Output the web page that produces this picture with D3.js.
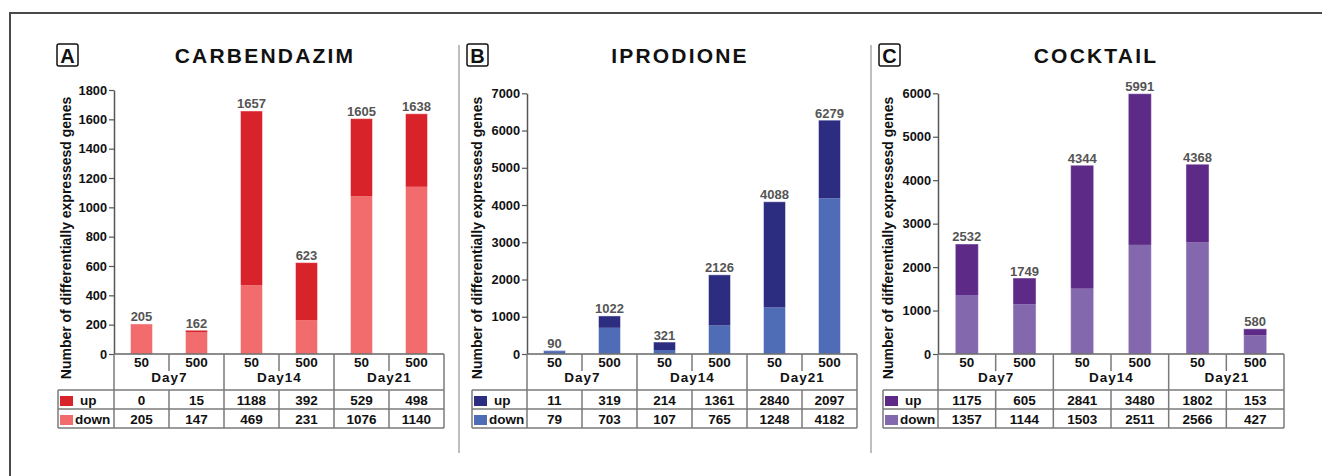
<!DOCTYPE html>
<html><head><meta charset="utf-8">
<script src="https://cdn.jsdelivr.net/npm/d3@7"></script>
<style>
body{margin:0;background:#fff}
svg{display:block}
text{font-family:"Liberation Sans",Arial,Helvetica,sans-serif;font-weight:bold}
</style></head><body>
<svg id="chart" width="1322" height="476"></svg>
<script>
// ---------- data ----------
const doses = ["50", "500", "50", "500", "50", "500"];
const days = ["Day7", "Day14", "Day21"];
const rowLabels = ["up", "down"];

const carbUp = [0, 15, 1188, 392, 529, 498];
const carbDown = [205, 147, 469, 231, 1076, 1140];
const carbTotal = [205, 162, 1657, 623, 1605, 1638];
const carbTicks = [0, 200, 400, 600, 800, 1000, 1200, 1400, 1600, 1800];

const iproUp = [11, 319, 214, 1361, 2840, 2097];
const iproDown = [79, 703, 107, 765, 1248, 4182];
const iproTotal = [90, 1022, 321, 2126, 4088, 6279];
const iproTicks = [0, 1000, 2000, 3000, 4000, 5000, 6000, 7000];

const cockUp = [1175, 605, 2841, 3480, 1802, 153];
const cockDown = [1357, 1144, 1503, 2511, 2566, 427];
const cockTotal = [2532, 1749, 4344, 5991, 4368, 580];
const cockTicks = [0, 1000, 2000, 3000, 4000, 5000, 6000];

const titles = ["CARBENDAZIM", "IPRODIONE", "COCKTAIL"];
const letters = ["A", "B", "C"];
const yTitle = "Number of differentially expressesd genes";

// ---------- layout ----------
const svg = d3.select("#chart");
const base = 354;
const lineCol = "#7a7a7a";

// outer frame
svg.append("rect").attr("x", 10).attr("y", 13).attr("width", 1340).attr("height", 500)
  .attr("fill", "none").attr("stroke", "#4a4a4a").attr("stroke-width", 2);
// panel separators
[459, 871].forEach(x => svg.append("line").attr("x1", x).attr("x2", x).attr("y1", 45).attr("y2", 453)
  .attr("stroke", "#a8a8a8").attr("stroke-width", 1.5));

const panels = [
  {box: 57, axisX: 114, right: 444, legL: 58, titleX: 264, yLab: 71, top: 90,
   up: carbUp, down: carbDown, total: carbTotal, ticks: carbTicks, cUp: "#d9232a", cDown: "#f26b6d"},
  {box: 467, axisX: 527, right: 857, legL: 472, titleX: 679, yLab: 481.5, top: 93.3,
   up: iproUp, down: iproDown, total: iproTotal, ticks: iproTicks, cUp: "#2c2d80", cDown: "#4f6cb6"},
  {box: 879, axisX: 938, right: 1284, legL: 883, titleX: 1095, yLab: 893, top: 93.3,
   up: cockUp, down: cockDown, total: cockTotal, ticks: cockTicks, cUp: "#5d2b87", cDown: "#8368ae"}
];

panels.forEach((p, pi) => {
  const g = svg.append("g");
  // letter box
  g.append("rect").attr("x", p.box).attr("y", 44).attr("width", 21).attr("height", 22).attr("rx", 2)
    .attr("fill", "none").attr("stroke", "#111").attr("stroke-width", 1.5);
  g.append("text").attr("x", p.box + 10.5).attr("y", 63).attr("text-anchor", "middle")
    .attr("font-size", 20).attr("fill", "#111").text(letters[pi]);
  // title
  g.append("text").attr("x", p.titleX + 1).attr("y", 63).attr("text-anchor", "middle")
    .attr("font-size", 21).attr("letter-spacing", 2.2).attr("fill", "#111").text(titles[pi]);

  const y = d3.scaleLinear().domain([0, p.ticks[p.ticks.length - 1]]).range([base, p.top]);
  const col = d3.scaleBand().domain(d3.range(6)).range([p.axisX, p.right]);
  const xb = d3.scaleBand().domain(d3.range(6)).range([p.axisX, p.right]).paddingInner(0.6).paddingOuter(0.3);
  const step = col.step();

  const rows = doses.map((d, i) => ({i, down: p.down[i], up: p.up[i]}));
  const stack = d3.stack().keys(["down", "up"])(rows);
  const colors = {down: p.cDown, up: p.cUp};

  stack.forEach(layer => {
    g.append("g").selectAll("rect").data(layer).join("rect")
      .attr("x", d => xb(d.data.i))
      .attr("width", xb.bandwidth())
      .attr("y", d => y(d[1]))
      .attr("height", d => Math.max(0, y(d[0]) - y(d[1])))
      .attr("fill", colors[layer.key]);
  });
  // light bar outline
  g.append("g").selectAll("rect").data(rows).join("rect")
    .attr("x", d => xb(d.i)).attr("width", xb.bandwidth())
    .attr("y", d => y(d.down + d.up)).attr("height", d => base - y(d.down + d.up))
    .attr("fill", "none").attr("stroke", "#ffffff").attr("stroke-opacity", 0.45).attr("stroke-width", 1);

  // totals
  g.append("g").selectAll("text").data(p.total).join("text")
    .attr("x", (d, i) => xb(i) + xb.bandwidth() / 2)
    .attr("y", (d, i) => y(p.down[i] + p.up[i]) - 2.5)
    .attr("text-anchor", "middle").attr("font-size", 13).attr("fill", "#555")
    .text(d => d);

  // y axis
  const ax = g.append("g").attr("transform", `translate(${p.axisX},0)`)
    .call(d3.axisLeft(y).tickValues(p.ticks).tickSize(5).tickSizeOuter(0).tickPadding(2).tickFormat(d3.format("d")));
  ax.select(".domain").attr("stroke", "#555").attr("stroke-width", 1.5);
  ax.selectAll(".tick line").attr("stroke", "#555").attr("stroke-width", 1.2);
  ax.selectAll(".tick text").attr("font-size", 12.8).attr("fill", "#111")
    .style("font-family", '"Liberation Sans",Arial,sans-serif').style("font-weight", "bold");

  // y title
  g.append("text").attr("transform", `translate(${p.yLab},238) rotate(-90)`)
    .attr("text-anchor", "middle").attr("font-size", 14).attr("fill", "#111").text(yTitle);

  // table
  const T = g.append("g").attr("stroke", lineCol).attr("stroke-width", 1.5);
  const r0 = base, r1 = 390, r2 = 409, r3 = 428;
  T.append("line").attr("x1", p.axisX).attr("x2", p.right).attr("y1", r0).attr("y2", r0).attr("stroke", "#666");
  [r1, r2, r3].forEach(yy => T.append("line").attr("x1", p.legL).attr("x2", p.right).attr("y1", yy).attr("y2", yy));
  T.append("line").attr("x1", p.legL).attr("x2", p.legL).attr("y1", r1).attr("y2", r3);
  for (let i = 0; i <= 6; i++) {
    const x = i < 6 ? col(i) : p.right;
    const bottom = (i % 2 === 1) ? 371 : r3;
    T.append("line").attr("x1", x).attr("x2", x).attr("y1", r0).attr("y2", bottom);
    if (i % 2 === 1) T.append("line").attr("x1", x).attr("x2", x).attr("y1", r1).attr("y2", r3);
  }
  // dose labels
  g.append("g").selectAll("text").data(doses).join("text")
    .attr("x", (d, i) => col(i) + step / 2).attr("y", 367)
    .attr("text-anchor", "middle").attr("font-size", 13.5).attr("fill", "#111").text(d => d);
  // day labels
  g.append("g").selectAll("text").data(days).join("text")
    .attr("x", (d, i) => col(i * 2) + step + 0.5).attr("y", 382)
    .attr("text-anchor", "middle").attr("font-size", 13.5).attr("letter-spacing", 1).attr("fill", "#111").text(d => d);
  // rows
  const vals = [p.up, p.down];
  const rowY = [404.5, 423.5];
  vals.forEach((arr, ri) => {
    g.append("g").selectAll("text").data(arr).join("text")
      .attr("x", (d, i) => col(i) + step / 2).attr("y", rowY[ri])
      .attr("text-anchor", "middle").attr("font-size", 13.5).attr("fill", "#111").text(d => d);
    g.append("rect").attr("x", p.legL + 2).attr("y", ri === 0 ? 396 : 415).attr("width", 13).attr("height", 10)
      .attr("fill", ri === 0 ? p.cUp : p.cDown);
    g.append("text").attr("x", p.legL + (ri === 0 ? 22 : 17)).attr("y", rowY[ri])
      .attr("font-size", 13.5).attr("fill", "#111").text(rowLabels[ri]);
  });
});
</script></body></html>
